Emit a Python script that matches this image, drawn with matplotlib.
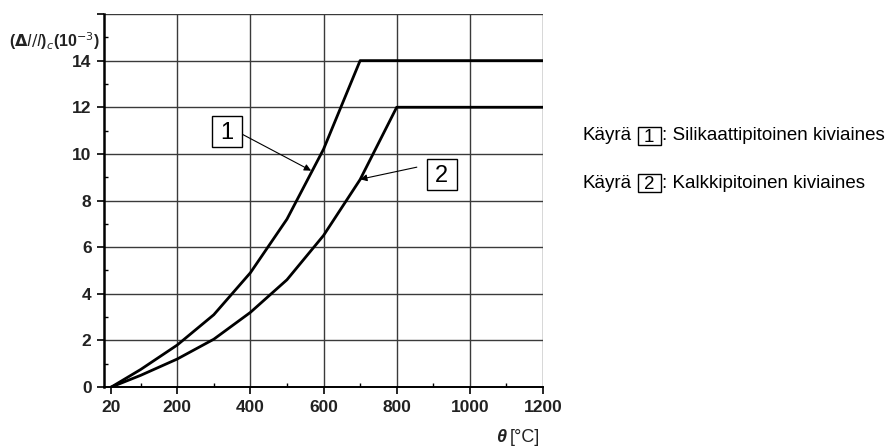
import matplotlib
matplotlib.use("Agg")
from matplotlib import pyplot as plt
from matplotlib.patches import Rectangle
from matplotlib.transforms import IdentityTransform

""" Betonin lämpövenymä lämpötilan funktiona """

# kayra 1 - silikaattipitoinen kiviaines
theta_1 = [20, 100, 200, 300, 400, 500, 600, 700, 1200]
strain_1 = [0.0, 0.75, 1.8, 3.1, 4.9, 7.2, 10.2, 14.0, 14.0]

# kayra 2 - kalkkipitoinen kiviaines
theta_2 = [20, 100, 200, 300, 400, 500, 600, 700, 800, 1200]
strain_2 = [0.0, 0.5, 1.2, 2.05, 3.2, 4.6, 6.5, 8.9, 12.0, 12.0]

x_ticks = [20, 200, 400, 600, 800, 1000, 1200]
x_tick_labels = ["20", "200", "400", "600", "800", "1000", "1200"]
y_ticks = [0, 2, 4, 6, 8, 10, 12, 14, 16]
y_tick_labels = ["0", "2", "4", "6", "8", "10", "12", "14", ""]

legend_labels = ["Silikaattipitoinen kiviaines", "Kalkkipitoinen kiviaines"]


def boxed_number(fig, px, py, text, w, h, size):
    """
    numero suorakaiteen sisällä, px/py ja w/h pikseleinä
    """
    fig.add_artist(Rectangle((px - w / 2, py - h / 2), w, h, transform=IdentityTransform(),
                             facecolor="white", edgecolor="black", linewidth=1.0, zorder=5))
    fig.text(px / fig.bbox.width, (py - 1.2) / fig.bbox.height, text, fontsize=size,
             ha="center", va="center", zorder=6)


def main():
    plt.rcParams["font.family"] = ["Liberation Sans", "DejaVu Sans"]

    fig = plt.figure(figsize=(8.93, 4.47), dpi=100)
    ax = fig.add_axes([0.1165, 0.1342, 0.4916, 0.8345])

    ax.set_xlim(0, 1200)
    ax.set_ylim(0, 16)

    # ruudukko
    ax.set_xticks(x_ticks)
    ax.set_xticklabels(x_tick_labels, fontsize=12.5, fontweight="bold", color="#222222")
    ax.set_yticks(y_ticks)
    ax.set_yticklabels(y_tick_labels, fontsize=12.5, fontweight="bold", color="#222222")
    ax.set_xticks([100, 300, 500, 700, 900, 1100], minor=True)
    ax.set_yticks([1, 3, 5, 7, 9, 11, 13, 15], minor=True)
    ax.grid(True, which="major", color="#3a3a3a", linewidth=1.0)
    ax.xaxis.get_gridlines()[0].set_visible(False)

    ax.tick_params(which="major", direction="out", length=5, width=1.2, pad=4)
    ax.tick_params(which="minor", direction="in", length=3, width=1.0)

    for side in ["top", "right"]:
        ax.spines[side].set_visible(False)
    ax.spines["left"].set_linewidth(1.8)
    ax.spines["bottom"].set_linewidth(1.4)

    ax.plot(theta_1, strain_1, color="black", linewidth=2.0, solid_joinstyle="round")
    ax.plot(theta_2, strain_2, color="black", linewidth=2.0, solid_joinstyle="round")

    arrow = dict(arrowstyle="-|>", color="black", linewidth=0.8, mutation_scale=10,
                 shrinkA=0, shrinkB=0)
    ax.annotate("", xy=(566, 9.28), xytext=(372, 10.89), arrowprops=arrow)
    ax.annotate("", xy=(700, 8.91), xytext=(855, 9.43), arrowprops=arrow)

    # numerolaatikot kuvaajan sisällä
    for number, pos in [("1", (336, 10.94)), ("2", (923, 9.12))]:
        px, py = ax.transData.transform(pos)
        boxed_number(fig, px, py, number, 30, 31, 17)

    # akselien otsikot
    fig.text(0.112, 0.907, r"($\mathbf{\Delta}\mathit{l/l}$)$_c$(10$^{-3}$)",
             fontsize=11.5, fontweight="bold", ha="right", va="center", color="#222222")
    fig.text(0.561, 0.022, "θ", fontsize=13, fontweight="bold", fontstyle="italic",
             ha="center", va="center", color="#222222")
    fig.text(0.571, 0.022, "[°C]", fontsize=13, ha="left", va="center", color="#222222")

    # selitteet
    legend_y = [447 - 136, 447 - 183]
    for i in range(2):
        py = legend_y[i]
        fig.text(583 / 893, py / 447, "Käyrä", fontsize=13.5, ha="left", va="center")
        boxed_number(fig, 649, py, str(i + 1), 23, 18, 13.5)
        fig.text(662 / 893, py / 447, ": " + legend_labels[i], fontsize=13.5,
                 ha="left", va="center")

    fig.savefig("out.png", dpi=100)


if __name__ == "__main__":
    main()
